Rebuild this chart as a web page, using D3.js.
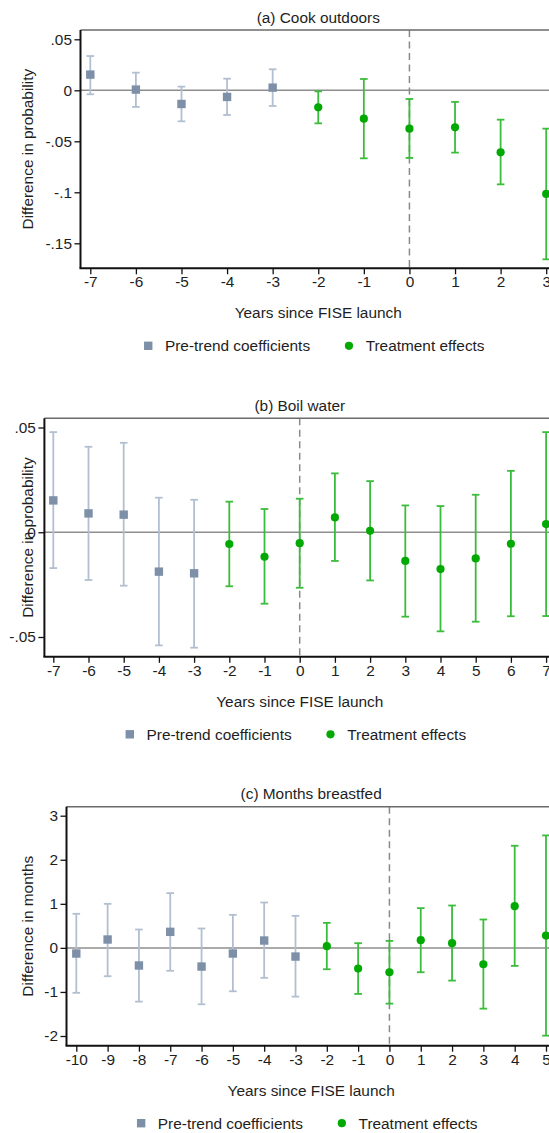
<!DOCTYPE html>
<html>
<head>
<meta charset="utf-8">
<script src="https://cdn.jsdelivr.net/npm/d3@7"></script>
<style>
  html, body { margin: 0; padding: 0; background: #fff; }
  svg { display: block; }
  text { font-family: "Liberation Sans", Arial, Helvetica, sans-serif; fill: #1e1e1e; }
</style>
</head>
<body>
<svg id="chart" width="549" height="1133"></svg>
<script>
// ---- Panel (a): cook outdoors ----
const cookYears = [-7, -6, -5, -4, -3, -2, -1, 0, 1, 2, 3];
const cookCoef  = [0.0154, 0.0007, -0.0134, -0.0065, 0.0026, -0.0167, -0.0278, -0.0376, -0.0363, -0.0608, -0.1016];
const cookLo    = [-0.0039, -0.0163, -0.0304, -0.0242, -0.0154, -0.0324, -0.0667, -0.0663, -0.0611, -0.0922, -0.1657];
const cookHi    = [0.0336, 0.0173, 0.0036, 0.0114, 0.0206, -0.0010, 0.0111, -0.0085, -0.0114, -0.0288, -0.0376];
const cookYTicks  = [0.05, 0, -0.05, -0.1, -0.15];
const cookYLabels = [".05", "0", "-.05", "-.1", "-.15"];

// ---- Panel (b): boil water ----
const boilYears = [-7, -6, -5, -4, -3, -2, -1, 0, 1, 2, 3, 4, 5, 6, 7];
const boilCoef  = [0.0152, 0.0090, 0.0084, -0.0188, -0.0196, -0.0056, -0.0117, -0.0052, 0.0071, 0.0007, -0.0137, -0.0176, -0.0125, -0.0055, 0.0039];
const boilLo    = [-0.0171, -0.0228, -0.0255, -0.0540, -0.0551, -0.0258, -0.0341, -0.0265, -0.0137, -0.0230, -0.0403, -0.0473, -0.0427, -0.0401, -0.0400];
const boilHi    = [0.0478, 0.0408, 0.0427, 0.0165, 0.0155, 0.0146, 0.0111, 0.0160, 0.0281, 0.0244, 0.0128, 0.0125, 0.0179, 0.0293, 0.0478];
const boilYTicks  = [0.05, 0, -0.05];
const boilYLabels = [".05", "0", "-.05"];

// ---- Panel (c): months breastfed ----
const bfYears = [-10, -9, -8, -7, -6, -5, -4, -3, -2, -1, 0, 1, 2, 3, 4, 5];
const bfCoef  = [-0.128, 0.190, -0.400, 0.364, -0.424, -0.128, 0.167, -0.197, 0.038, -0.470, -0.553, 0.174, 0.106, -0.371, 0.947, 0.280];
const bfLo    = [-1.020, -0.643, -1.220, -0.520, -1.280, -0.985, -0.680, -1.106, -0.485, -1.045, -1.265, -0.553, -0.742, -1.379, -0.409, -1.992];
const bfHi    = [0.773, 1.000, 0.417, 1.243, 0.440, 0.750, 1.030, 0.727, 0.568, 0.106, 0.159, 0.902, 0.962, 0.644, 2.318, 2.553];
const bfYTicks  = [3, 2, 1, 0, -1, -2];
const bfYLabels = ["3", "2", "1", "0", "-1", "-2"];

// Shared text
const xTitle = "Years since FISE launch";
const legendLabels = ["Pre-trend coefficients", "Treatment effects"];
const lastPreYear = -3;   // years up to here are pre-trend coefficients

// Styling
const FONT = 15.4;
const preMarker = "#7d90a8", preCI = "#b2bfd0";
const trtMarker = "#03a903", trtCI = "#3cbc3c";

const svg = d3.select("#chart");

function drawPanel(cfg) {
  const g = svg.append("g");
  const { left, right, top, bottom } = cfg.frame;

  const x = d3.scaleLinear().domain(cfg.xDomain).range(cfg.xRange);
  const y = d3.scaleLinear().domain(cfg.yDomain).range(cfg.yRange);

  // zero reference line
  g.append("line")
    .attr("x1", left).attr("x2", right)
    .attr("y1", y(0)).attr("y2", y(0))
    .attr("stroke", "#8e8e8e").attr("stroke-width", 1.5);

  // launch year marker
  g.append("line")
    .attr("x1", x(0)).attr("x2", x(0))
    .attr("y1", top).attr("y2", bottom)
    .attr("stroke", "#8a8a8a").attr("stroke-width", 1.5)
    .attr("stroke-dasharray", "7,4.5");

  const rows = cfg.years.map((yr, i) => ({
    yr, coef: cfg.coef[i], lo: cfg.lo[i], hi: cfg.hi[i], pre: yr <= lastPreYear
  }));

  // confidence intervals with caps
  const cap = 3.8;
  const ci = g.append("g");
  rows.forEach(d => {
    const col = d.pre ? preCI : trtCI;
    const cx = x(d.yr);
    ci.append("line").attr("x1", cx).attr("x2", cx)
      .attr("y1", y(d.hi)).attr("y2", y(d.lo))
      .attr("stroke", col).attr("stroke-width", 1.8);
    [d.hi, d.lo].forEach(v => {
      ci.append("line").attr("x1", cx - cap).attr("x2", cx + cap)
        .attr("y1", y(v)).attr("y2", y(v))
        .attr("stroke", col).attr("stroke-width", 1.8);
    });
  });

  // point estimates
  const s = 8.4;
  g.selectAll("rect.pt").data(rows.filter(d => d.pre)).join("rect")
    .attr("class", "pt")
    .attr("x", d => x(d.yr) - s / 2).attr("y", d => y(d.coef) - s / 2)
    .attr("width", s).attr("height", s)
    .attr("fill", preMarker);
  g.selectAll("circle.pt").data(rows.filter(d => !d.pre)).join("circle")
    .attr("class", "pt")
    .attr("cx", d => x(d.yr)).attr("cy", d => y(d.coef))
    .attr("r", 4.1)
    .attr("fill", trtMarker);

  // plot region outline
  g.append("line").attr("x1", left).attr("x2", right + 10).attr("y1", top).attr("y2", top)
    .attr("stroke", "#6a6a6a").attr("stroke-width", 1.6);
  g.append("line").attr("x1", left).attr("x2", left).attr("y1", top).attr("y2", bottom)
    .attr("stroke", "#111").attr("stroke-width", 2);
  g.append("line").attr("x1", left - 1).attr("x2", right + 10).attr("y1", bottom).attr("y2", bottom)
    .attr("stroke", "#111").attr("stroke-width", 2);

  // axes
  const yAxis = d3.axisLeft(y)
    .tickValues(cfg.yTicks)
    .tickFormat((d, i) => cfg.yLabels[i])
    .tickSize(6).tickPadding(2.5);
  const ya = g.append("g").attr("transform", `translate(${left},0)`).call(yAxis);
  ya.select(".domain").remove();
  ya.selectAll(".tick line").attr("stroke", "#111").attr("stroke-width", 1.3);
  ya.selectAll(".tick text").attr("font-size", FONT).attr("fill", "#1e1e1e")
    .attr("font-family", null);

  const xAxis = d3.axisBottom(x)
    .tickValues(cfg.years)
    .tickFormat(d3.format("d"))
    .tickSize(6).tickPadding(2);
  const xa = g.append("g").attr("transform", `translate(0,${bottom})`).call(xAxis);
  xa.select(".domain").remove();
  xa.selectAll(".tick line").attr("stroke", "#111").attr("stroke-width", 1.3);
  xa.selectAll(".tick text").attr("font-size", FONT).attr("fill", "#1e1e1e")
    .attr("font-family", null)
    .text(d => d < 0 ? "-" + Math.abs(d) : String(d));

  const mid = (left + right) / 2;

  // panel title
  g.append("text").attr("x", mid).attr("y", top - 12.8).attr("dy", "0.35em")
    .attr("text-anchor", "middle").attr("font-size", FONT).text(cfg.title);

  // axis titles
  g.append("text").attr("x", mid).attr("y", bottom + 44.6).attr("dy", "0.35em")
    .attr("text-anchor", "middle").attr("font-size", FONT).text(xTitle);
  g.append("text")
    .attr("transform", `translate(${cfg.yTitleX},${(top + bottom) / 2}) rotate(-90)`)
    .attr("dy", "0.35em").attr("text-anchor", "middle")
    .attr("font-size", FONT).text(cfg.yTitle);

  // legend
  const ly = bottom + 77.5;
  const lx = mid - 170;
  g.append("rect").attr("x", lx - 4.2).attr("y", ly - 4.2).attr("width", 8.4).attr("height", 8.4)
    .attr("fill", preMarker);
  g.append("text").attr("x", lx + 16.7).attr("y", ly).attr("dy", "0.35em")
    .attr("font-size", FONT).text(legendLabels[0]);
  g.append("circle").attr("cx", lx + 200.7).attr("cy", ly).attr("r", 4.1).attr("fill", trtMarker);
  g.append("text").attr("x", lx + 217.4).attr("y", ly).attr("dy", "0.35em")
    .attr("font-size", FONT).text(legendLabels[1]);
}

drawPanel({
  title: "(a) Cook outdoors", yTitle: "Difference in probability", yTitleX: 27.5,
  years: cookYears, coef: cookCoef, lo: cookLo, hi: cookHi,
  yTicks: cookYTicks, yLabels: cookYLabels,
  frame: { left: 80.5, right: 556, top: 30, bottom: 268.3 },
  xDomain: [-7, 3], xRange: [90.3, 546.2],
  yDomain: [0.05, -0.15], yRange: [39.3, 243.3]
});

drawPanel({
  title: "(b) Boil water", yTitle: "Difference in probability", yTitleX: 28,
  years: boilYears, coef: boilCoef, lo: boilLo, hi: boilHi,
  yTicks: boilYTicks, yLabels: boilYLabels,
  frame: { left: 44.4, right: 555.2, top: 418.3, bottom: 656.8 },
  xDomain: [-7, 7], xRange: [53.3, 546.1],
  yDomain: [0.05, -0.05], yRange: [427.5, 637]
});

drawPanel({
  title: "(c) Months breastfed", yTitle: "Difference in months", yTitleX: 27.3,
  years: bfYears, coef: bfCoef, lo: bfLo, hi: bfHi,
  yTicks: bfYTicks, yLabels: bfYLabels,
  frame: { left: 66.5, right: 555.8, top: 806.7, bottom: 1045.7 },
  xDomain: [-10, 5], xRange: [76.3, 546],
  yDomain: [3, -2], yRange: [815.7, 1036]
});
</script>
</body>
</html>
